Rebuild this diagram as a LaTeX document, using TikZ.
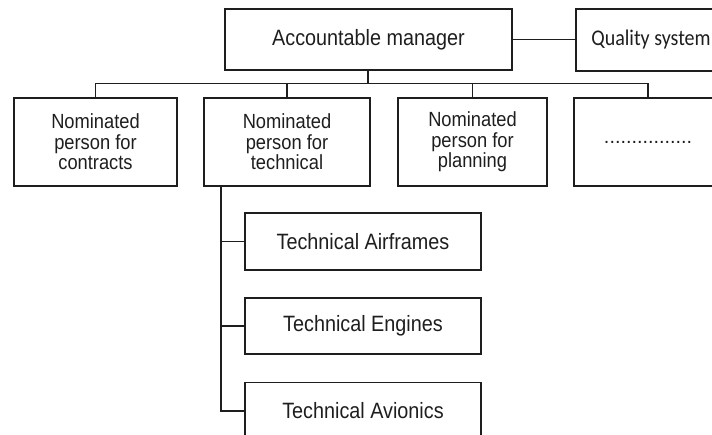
\documentclass[tikz,border=0pt]{standalone}
\usepackage{graphicx}
\usepackage{fontspec}
\setmainfont{Liberation Sans}
\newfontfamily\calib{Carlito}
\definecolor{ink}{HTML}{1E1E1E}
\newcommand\vst[1]{\scalebox{1}[1.12]{#1}}
\begin{document}
\begin{tikzpicture}[x=1pt,y=-1pt,
  box/.style={draw=ink, line width=1.5pt, rectangle, inner sep=0pt, text=ink, align=center},
  big/.style={font=\fontsize{19.8}{22}\selectfont},
  multi/.style={font=\fontsize{18.3}{20.5}\selectfont},
  conn/.style={draw=ink, line width=1.5pt}]
\useasboundingbox (0,0) rectangle (712,435);
\clip (0,0) rectangle (712,435);
% top level
\node[box, big, minimum width=287pt, minimum height=61pt] (mgr) at (368.5,39.5) {\vst{Accountable manager}};
\node[box, font=\calib\fontsize{20}{22}\selectfont, minimum width=150pt, minimum height=62pt] (qs) at (651,40) {\vst{Quality system}};
% second level
\node[box, multi, minimum width=163pt, minimum height=88pt] (con) at (95.5,142) {\vst{Nominated}\\\vst{person for}\\\vst{contracts}};
\node[box, multi, minimum width=166pt, minimum height=88pt] (tech) at (287,142) {\vst{Nominated}\\\vst{person for}\\\vst{technical}};
\node[box, multi, minimum width=149pt, minimum height=88pt] (plan) at (472.5,142) {\vst{Nominated}\\\vst{person for}\\\vst{planning}};
\node[box, big, minimum width=148pt, minimum height=88pt] (etc) at (648,142) {................};
% technical sub-units
\node[box, big, minimum width=236pt, minimum height=57pt] (air) at (363,241.5) {\vst{Technical Airframes}};
\node[box, big, minimum width=236pt, minimum height=56pt] (eng) at (363,326) {\vst{Technical Engines}};
\node[box, big, minimum width=236pt, minimum height=57pt] (avi) at (363,411) {\vst{Technical Avionics}};
% connectors
\coordinate (bus) at (368,83.3);
\draw[conn] (mgr.east) -- (qs.west |- mgr.east);
\draw[conn, line width=2.2pt] (mgr.south -| bus) -- (bus);
\draw[conn] (bus -| con.north) -- (bus -| etc.north);
\draw[conn] (bus -| con.north) -- (con.north);
\draw[conn] (bus -| tech.north) -- (tech.north);
\draw[conn] (bus -| plan.north) -- (plan.north);
\draw[conn] (bus -| etc.north) -- (etc.north);
\coordinate (t0) at (221,186);
\draw[conn, line width=1.8pt] (t0) |- (avi.west);
\draw[conn] (t0 |- air.west) -- (air.west);
\draw[conn] (t0 |- eng.west) -- (eng.west);
\end{tikzpicture}
\end{document}
